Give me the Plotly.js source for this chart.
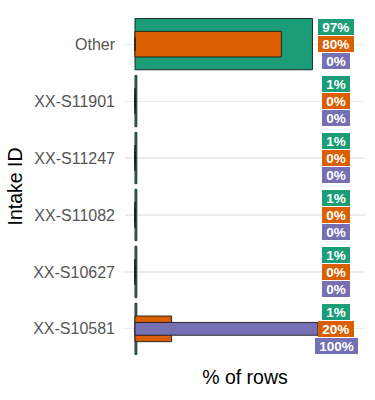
<!DOCTYPE html>
<html>
<head>
<meta charset="utf-8">
<script src="https://cdn.plot.ly/plotly-3.0.1.min.js"></script>
<style>html,body{margin:0;padding:0;background:#fff;}#chart{width:375px;height:400px;}</style>
</head>
<body>
<div id="chart"></div>
<script>
const categories = ['Other', 'XX-S11901', 'XX-S11247', 'XX-S11082', 'XX-S10627', 'XX-S10581'];
const seriesNames = ['Group A', 'Group B', 'Group C'];
const greenValues = [97, 1, 1, 1, 1, 1];
const orangeValues = [80, 0, 0, 0, 0, 20];
const purpleValues = [0, 0, 0, 0, 0, 100];

const colors = ['#1b9e77', '#d95f02', '#7570b3'];
const widths = [0.9, 0.45, 0.225];
const allValues = [greenValues, orangeValues, purpleValues];
const labelX = 110;
const shifts = [17, 0, -17];
const font = 'Liberation Sans, Arial, sans-serif';

const traces = allValues.map((vals, i) => ({
  type: 'bar',
  orientation: 'h',
  name: seriesNames[i],
  y: categories,
  x: vals,
  width: widths[i],
  marker: {color: colors[i], line: {color: '#1a1a1a', width: 0.9}},
  hoverinfo: 'none'
}));

const annotations = [];
allValues.forEach((vals, i) => {
  vals.forEach((v, j) => {
    annotations.push({
      x: labelX, y: categories[j], xref: 'x', yref: 'y',
      yshift: shifts[i],
      text: '\u00a0' + v + '%\u00a0',
      showarrow: false,
      font: {family: font, size: 13.5, color: '#ffffff', weight: 'bold'},
      bgcolor: colors[i],
      bordercolor: colors[i],
      borderwidth: 0,
      borderpad: 0.5,
      xanchor: 'center', yanchor: 'middle'
    });
  });
});

const layout = {
  width: 375, height: 400,
  margin: {l: 125, r: 10, t: 10, b: 37},
  paper_bgcolor: '#ffffff', plot_bgcolor: '#ffffff',
  barmode: 'overlay',
  showlegend: false,
  font: {family: font},
  xaxis: {
    range: [-5.46, 125.7],
    showgrid: false, zeroline: false, showticklabels: false, ticks: '',
    showline: false,
    title: {text: '% of rows', font: {family: font, size: 19.5, color: '#000000'}, standoff: 7}
  },
  yaxis: {
    type: 'category',
    categoryorder: 'array', categoryarray: categories,
    range: [categories.length - 0.4, -0.6],
    showgrid: true, gridcolor: '#ebebeb', gridwidth: 1.2,
    zeroline: false, showline: false, ticks: '',
    ticklabelstandoff: 9,
    tickfont: {family: font, size: 16, color: '#555555'},
    title: {text: 'Intake ID', font: {family: font, size: 19.5, color: '#000000'}, standoff: 5}
  },
  annotations: annotations
};

Plotly.newPlot('chart', traces, layout, {displayModeBar: false, staticPlot: true});
</script>
</body>
</html>
